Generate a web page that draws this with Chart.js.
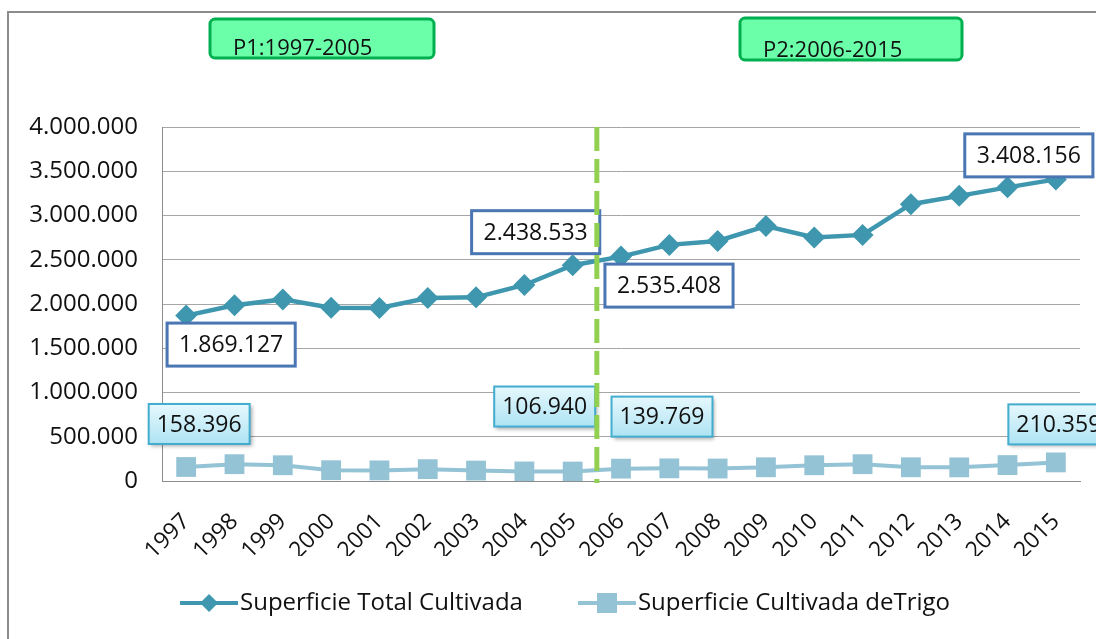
<!DOCTYPE html>
<html>
<head>
<meta charset="utf-8">
<title>Superficie cultivada 1997-2015</title>
<script src="https://cdn.jsdelivr.net/npm/chart.js@4/dist/chart.umd.min.js"></script>
<style>
    body { margin: 0; background: #ffffff; }
    #contenedor { width: 1096px; height: 639px; }
</style>
</head>
<body>
<div id="contenedor">
    <canvas id="myChart" width="1096" height="639"></canvas>
</div>
<script>

// datos
var anios = ['1997', '1998', '1999', '2000', '2001', '2002', '2003', '2004', '2005', '2006',
             '2007', '2008', '2009', '2010', '2011', '2012', '2013', '2014', '2015'];

var superficieTotal = [1869127, 1985000, 2052000, 1958000, 1955000, 2068000, 2075000, 2215000, 2438533, 2535408,
                       2668000, 2712000, 2880000, 2752000, 2781000, 3128000, 3222000, 3318000, 3408156];

var superficieTrigo = [158396, 190000, 178000, 122000, 120000, 134000, 118000, 108000, 106940, 139769,
                       143000, 141000, 155000, 178000, 190000, 155000, 154000, 180000, 210359];

var ticksY = [0, 500000, 1000000, 1500000, 2000000, 2500000, 3000000, 3500000, 4000000];

var periodos = ['P1:1997-2005', 'P2:2006-2015'];

// indices de los puntos que llevan etiqueta
var etiquetasTotal = [0, 8, 9, 18];
var etiquetasTrigo = [0, 8, 9, 18];

// desplazamiento de cada etiqueta respecto a su punto (px)
var desplTotal = [[45, 29], [-37, -33], [48, 29], [-27, -24]];
var desplTrigo = [[13, -43], [-28, -65], [41, -52], [3, -38]];

var colorTotal = '#3e97ae';
var colorTrigo = '#93c3d5';
var fuente = "'Open Sans', sans-serif";


function formatoMiles (n) {
    return String(Math.round(n)).replace(/\B(?=(\d{3})+(?!\d))/g, '.');
}

function rectRedondo (ctx, x, y, w, h, r) {
    ctx.beginPath();
    ctx.moveTo(x + r, y);
    ctx.arcTo(x + w, y, x + w, y + h, r);
    ctx.arcTo(x + w, y + h, x, y + h, r);
    ctx.arcTo(x, y + h, x, y, r);
    ctx.arcTo(x, y, x + w, y, r);
    ctx.closePath();
}

// icono de leyenda: linea con marcador (la linea va en los ultimos 58 px)
function iconoLeyenda (color, tipo) {
    var c = document.createElement('canvas');
    c.width = 88;
    c.height = 24;
    var g = c.getContext('2d');
    g.strokeStyle = color;
    g.fillStyle = color;
    g.lineWidth = 4;
    g.beginPath();
    g.moveTo(30, 12);
    g.lineTo(88, 12);
    g.stroke();
    if (tipo == 'rombo') {
        g.beginPath();
        g.moveTo(59, 3); g.lineTo(68, 12); g.lineTo(59, 21); g.lineTo(50, 12);
        g.closePath();
        g.fill();
    } else {
        g.fillRect(49, 2, 20, 20);
    }
    return c;
}

var iconos = [iconoLeyenda(colorTotal, 'rombo'), iconoLeyenda(colorTrigo, 'cuadro')];

function dibujarEtiqueta (ctx, x, y, texto, tipo) {
    ctx.save();
    ctx.font = '23px ' + fuente;
    var ancho = ctx.measureText(texto).width;
    var w, h;
    if (tipo == 'total') {
        w = ancho + 24; h = 43;
        ctx.fillStyle = '#ffffff';
        ctx.fillRect(x - w / 2, y - h / 2, w, h);
        ctx.lineWidth = 3;
        ctx.strokeStyle = '#4a76b4';
        ctx.strokeRect(x - w / 2, y - h / 2, w, h);
    } else {
        w = ancho + 16; h = 40;
        ctx.shadowColor = 'rgba(0,0,0,0.35)';
        ctx.shadowBlur = 4;
        ctx.shadowOffsetX = 2;
        ctx.shadowOffsetY = 2;
        var grad = ctx.createLinearGradient(0, y - h / 2, 0, y + h / 2);
        grad.addColorStop(0, '#e6f8fd');
        grad.addColorStop(1, '#aee3f3');
        ctx.fillStyle = grad;
        ctx.fillRect(x - w / 2, y - h / 2, w, h);
        ctx.shadowColor = 'transparent';
        ctx.lineWidth = 2;
        ctx.strokeStyle = '#43add0';
        ctx.strokeRect(x - w / 2, y - h / 2, w, h);
    }
    ctx.fillStyle = '#111111';
    ctx.textAlign = 'center';
    ctx.textBaseline = 'middle';
    ctx.fillText(texto, x, y + 1);
    ctx.restore();
}

function $each (lista, fn) {
    for (var k = 0; k < lista.length; k++) {
        fn(k, lista[k]);
    }
}

var pluginAdornos = {
    id: 'adornos',
    afterLayout: function (chart) {
        // correr la leyenda un poco a la derecha
        chart.legend.left += 30;
    },
    beforeDraw: function (chart) {
        var ctx = chart.ctx;
        ctx.save();
        // marco exterior
        ctx.strokeStyle = '#8c8c8c';
        ctx.lineWidth = 2;
        ctx.beginPath();
        ctx.moveTo(8, chart.height);
        ctx.lineTo(8, 12);
        ctx.lineTo(chart.width, 12);
        ctx.stroke();
        ctx.restore();
    },
    afterDatasetsDraw: function (chart) {
        var ctx = chart.ctx;
        var metaTotal = chart.getDatasetMeta(0).data;
        var metaTrigo = chart.getDatasetMeta(1).data;
        $each(etiquetasTotal, function (k, i) {
            dibujarEtiqueta(ctx, metaTotal[i].x + desplTotal[k][0], metaTotal[i].y + desplTotal[k][1],
                            formatoMiles(superficieTotal[i]), 'total');
        });
        $each(etiquetasTrigo, function (k, i) {
            dibujarEtiqueta(ctx, metaTrigo[i].x + desplTrigo[k][0], metaTrigo[i].y + desplTrigo[k][1],
                            formatoMiles(superficieTrigo[i]), 'trigo');
        });
    },
    afterDraw: function (chart) {
        var ctx = chart.ctx;
        var area = chart.chartArea;
        var x = chart.scales.x;

        // linea divisoria entre 2005 y 2006
        var xCorte = (x.getPixelForValue(8) + x.getPixelForValue(9)) / 2;
        ctx.save();
        ctx.strokeStyle = '#92d050';
        ctx.lineWidth = 5;
        ctx.setLineDash([24, 8]);
        ctx.beginPath();
        ctx.moveTo(xCorte, area.top);
        ctx.lineTo(xCorte, area.bottom + 2);
        ctx.stroke();
        ctx.restore();

        // cajas de periodo
        var cajas = [[210, 19, 224, 39], [740, 18, 222, 42]];
        ctx.save();
        $each(cajas, function (k, c) {
            rectRedondo(ctx, c[0], c[1], c[2], c[3], 5);
            ctx.fillStyle = '#6bffa9';
            ctx.fill();
            ctx.lineWidth = 3;
            ctx.strokeStyle = '#00b050';
            ctx.stroke();
            ctx.fillStyle = '#111111';
            ctx.font = '22px ' + fuente;
            ctx.textAlign = 'left';
            ctx.textBaseline = 'alphabetic';
            ctx.fillText(periodos[k], c[0] + 23, c[1] + c[3] - 3);
        });
        ctx.restore();
    }
};

var ctx = document.getElementById('myChart').getContext('2d');
var chart = new Chart(ctx, {
    type: 'line',
    data: {
        labels: anios,
        datasets: [{
            label: 'Superficie Total Cultivada',
            data: superficieTotal,
            borderColor: colorTotal,
            backgroundColor: colorTotal,
            borderWidth: 4.5,
            pointStyle: 'rectRot',
            pointRadius: 11,
            pointBorderWidth: 0,
            tension: 0
        }, {
            label: 'Superficie Cultivada deTrigo',
            data: superficieTrigo,
            borderColor: colorTrigo,
            backgroundColor: colorTrigo,
            borderWidth: 4,
            pointStyle: 'rect',
            pointRadius: 14,
            pointBorderWidth: 0,
            tension: 0
        }]
    },
    options: {
        responsive: false,
        animation: false,
        devicePixelRatio: 1,
        layout: {
            padding: { left: 0, top: 127, right: 16, bottom: 14 }
        },
        scales: {
            x: {
                offset: true,
                grid: { display: false },
                border: { color: '#8c8c8c', width: 1 },
                ticks: {
                    autoSkip: false,
                    minRotation: 45,
                    maxRotation: 45,
                    padding: 19,
                    color: '#111111',
                    font: { family: fuente, size: 23 }
                },
                afterFit: function (scale) { scale.height = 75; }
            },
            y: {
                min: 0,
                max: 4000000,
                afterBuildTicks: function (scale) {
                    scale.ticks = ticksY.map(function (v) { return { value: v }; });
                },
                grid: { color: '#a6a6a6', drawTicks: false },
                border: { color: '#8c8c8c', width: 1 },
                ticks: {
                    padding: 24,
                    color: '#111111',
                    font: { family: fuente, size: 24 },
                    callback: function (v) { return formatoMiles(v); }
                },
                afterFit: function (scale) { scale.width = 162; }
            }
        },
        plugins: {
            tooltip: { enabled: false },
            legend: {
                position: 'bottom',
                labels: {
                    usePointStyle: true,
                    pointStyleWidth: 68,
                    padding: 35,
                    color: '#111111',
                    font: { family: fuente, size: 24 },
                    generateLabels: function (chart) {
                        var items = Chart.defaults.plugins.legend.labels.generateLabels(chart);
                        $each(items, function (k, o) { o.pointStyle = iconos[k]; });
                        return items;
                    }
                }
            }
        }
    },
    plugins: [pluginAdornos]
});
</script>
</body>
</html>
